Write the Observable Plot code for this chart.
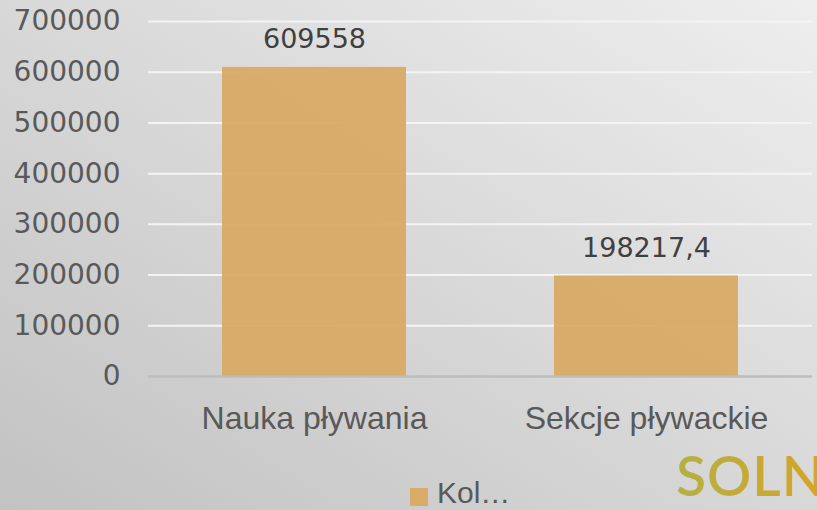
<!DOCTYPE html>
<html>
<head>
<meta charset="utf-8">
<script src="https://cdn.jsdelivr.net/npm/d3@7"></script>
<script src="https://cdn.jsdelivr.net/npm/@observablehq/plot@0.6"></script>
<style>
  html, body { margin: 0; padding: 0; }
  #wrap {
    position: relative; width: 817px; height: 510px; overflow: hidden;
    background: linear-gradient(to top right, #c2c2c2, #eeeeee);
  }
  #legend {
    position: absolute; left: 0; top: 460px; width: 817px; height: 50px;
    font-family: "Liberation Sans", Arial, sans-serif; font-size: 30px; color: #595959;
  }
  #legend .sw { position: absolute; left: 410px; top: 28px; width: 18px; height: 18px; background: #d8ab66; }
  #legend .lb { position: absolute; left: 437px; top: 18px; line-height: 30px; }
  #logo {
    position: absolute; left: 676px; top: 444px; font-family: Lato, sans-serif; font-weight: 600;
    font-size: 55px; line-height: 62px; letter-spacing: 1px; white-space: nowrap;
    background: linear-gradient(to right, #b4b044, #d6a526);
    -webkit-background-clip: text; background-clip: text; color: transparent;
  }
</style>
</head>
<body>
<div id="wrap">
  <div id="chart"></div>
  <div id="legend"><div class="sw"></div><div class="lb">Kol…</div></div>
  <div id="logo">SOLN</div>
</div>
<script>
const categories = ["Nauka pływania", "Sekcje pływackie"];
const values = [609558, 198217.4];
const yTicks = [0, 100000, 200000, 300000, 400000, 500000, 600000, 700000];
const seriesName = "Kol…";

const data = categories.map((c, i) => ({ category: c, value: values[i] }));
const fmt = v => String(v).replace(".", ",");

const chart = Plot.plot({
  width: 817,
  height: 460,
  marginLeft: 148,
  marginRight: 5,
  marginTop: 21,
  marginBottom: 84,
  style: { background: "transparent", overflow: "visible" },
  x: { domain: categories, paddingInner: 0.446, paddingOuter: 0.223, axis: null },
  y: { domain: [0, 700000], axis: null },
  marks: [
    Plot.ruleY(yTicks.filter(t => t > 0), { stroke: "#f4f4f4", strokeWidth: 2 }),
    Plot.barY(data, { x: "category", y: "value", fill: "#d8ab66", fillOpacity: 0.95 }),
    Plot.ruleY([0], { stroke: "#bdbdbd", strokeWidth: 2.5 }),
    Plot.axisY({ ticks: yTicks, tickSize: 0, tickPadding: 28, tickFormat: d => String(d), label: null,
      fontSize: 28, fontFamily: "DejaVu Sans", fill: "#595959" }),
    Plot.axisX({ tickSize: 0, tickPadding: 30, label: null, fontSize: 32, fontFamily: "Liberation Sans", fill: "#595959" }),
    Plot.text(data, { x: "category", y: "value", text: d => fmt(d.value), lineAnchor: "bottom", dy: -19,
      fontSize: 27, fontFamily: "DejaVu Sans", fill: "#404040" })
  ]
});
document.getElementById("chart").appendChild(chart);
</script>
</body>
</html>
